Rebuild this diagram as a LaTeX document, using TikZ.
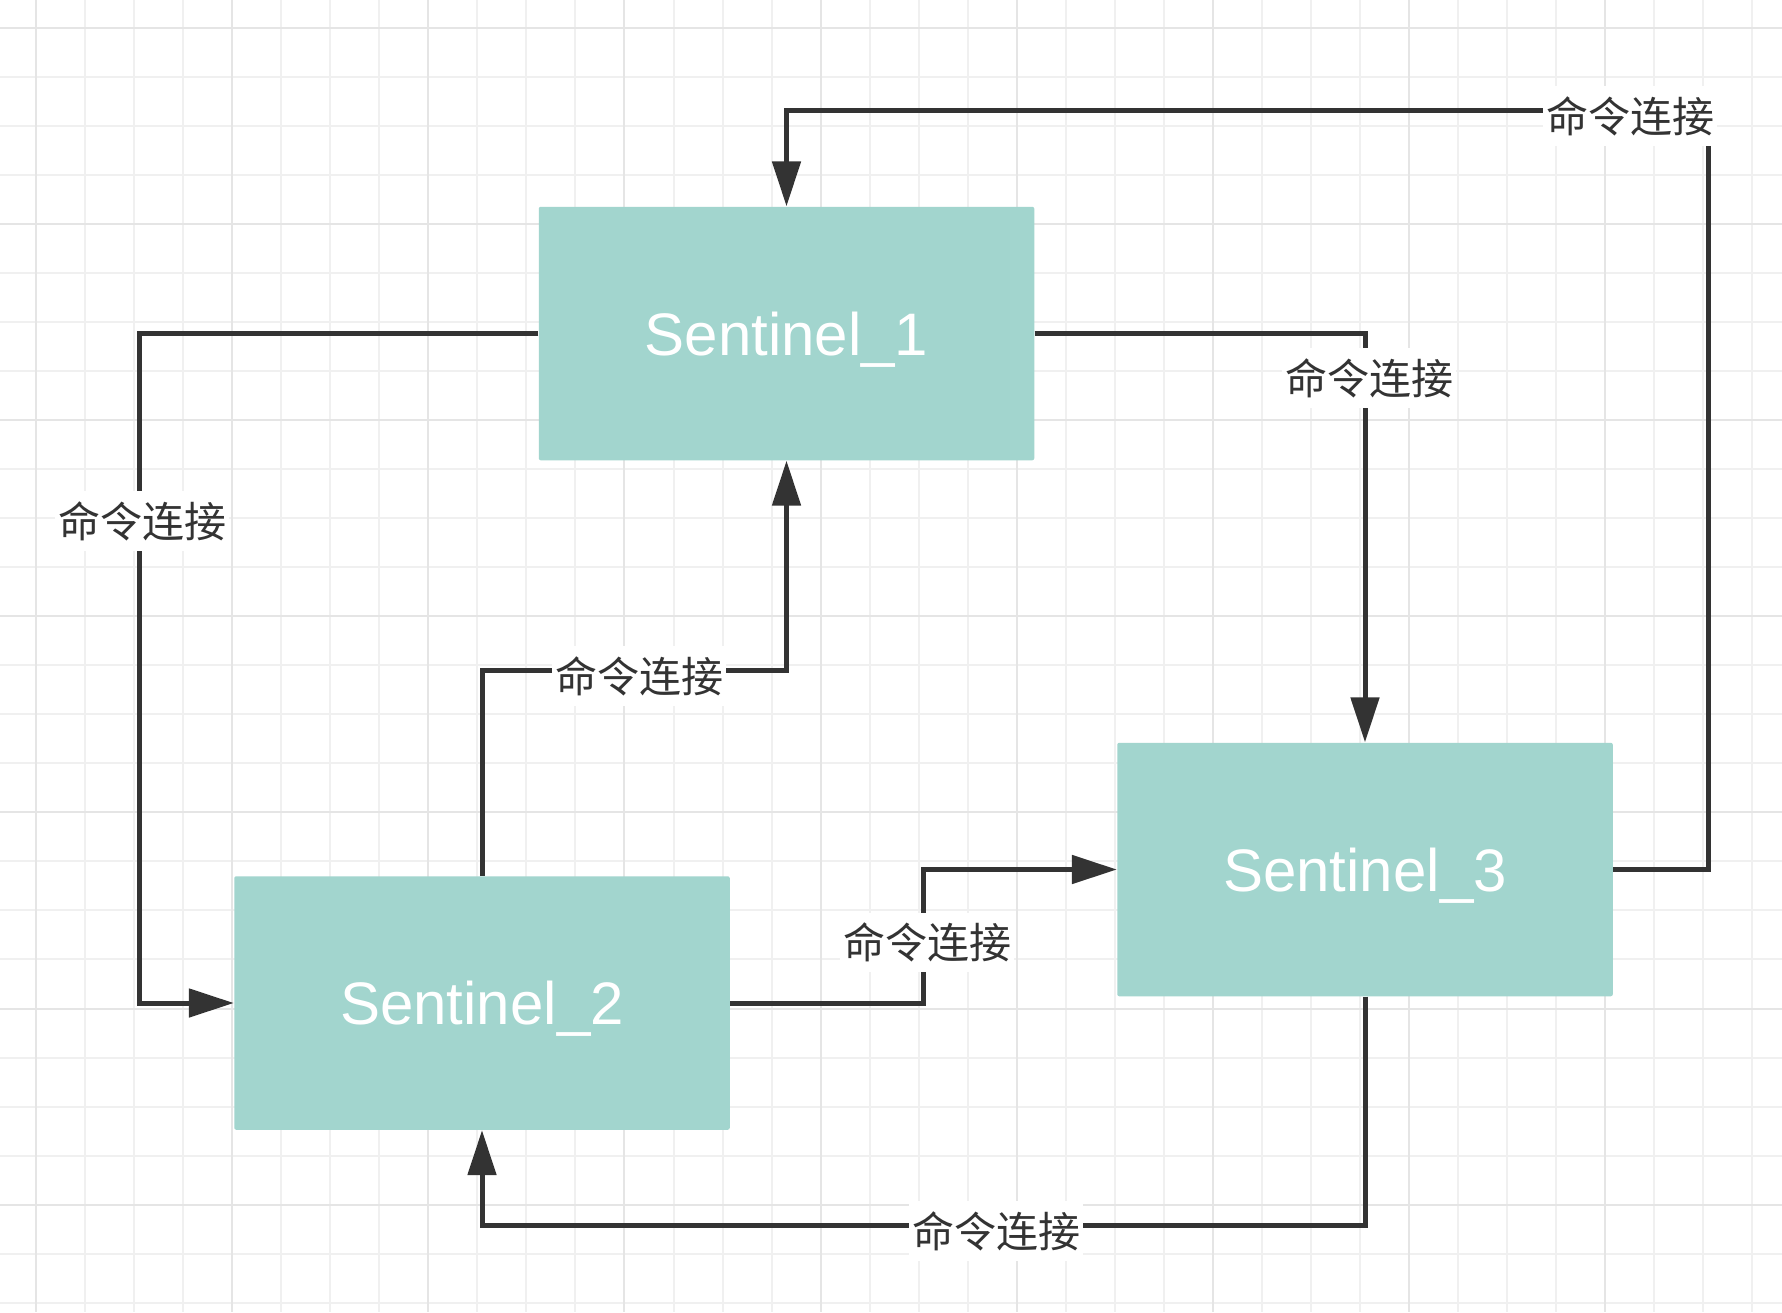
\documentclass[tikz,border=0pt]{standalone}
\usepackage{fontspec}
\setmainfont{Liberation Sans}
\newfontfamily\cjk{Noto Sans CJK SC}
\usetikzlibrary{arrows.meta}
\definecolor{boxfill}{RGB}{162,213,206}
\definecolor{linecol}{RGB}{51,51,51}
\definecolor{gridminor}{RGB}{240,240,240}
\definecolor{gridmajor}{RGB}{229,229,229}
\begin{document}
\begin{tikzpicture}[x=0.5pt,y=-0.5pt,
  sentbox/.style={fill=boxfill, draw=none, rounded corners=1pt,
    minimum width=247.75pt, minimum height=126.75pt, inner sep=0pt,
    text depth=0pt, text=white, font=\fontsize{30}{34}\selectfont},
  conn/.style={draw=linecol, line width=2.5pt, -{Triangle[length=22.5pt,width=14pt]}},
  lbl/.style={fill=white, text=linecol, font=\cjk\fontsize{21}{21}\selectfont,
    inner xsep=1.5pt, inner ysep=5pt},
  gline/.style={line width=1pt},
]
\useasboundingbox (0,0) rectangle (1782,1312);
\fill[white] (0,0) rectangle (1782,1312);
% grid
\foreach \k in {0,...,35} \draw[gline, gridminor] ({36+49.04*\k},0) -- ({36+49.04*\k},1312);
\foreach \k in {0,...,26} \draw[gline, gridminor] (0,{27.7+49.04*\k}) -- (1782,{27.7+49.04*\k});
\foreach \k in {0,4,...,32} \draw[gline, gridmajor] ({36+49.04*\k},0) -- ({36+49.04*\k},1312);
\foreach \k in {0,4,...,24} \draw[gline, gridmajor] (0,{27.7+49.04*\k}) -- (1782,{27.7+49.04*\k});

% boxes
\node[sentbox] (s1) at (786.5,333.5) {Sentinel\_1};
\node[sentbox] (s2) at (482,1003) {Sentinel\_2};
\node[sentbox] (s3) at (1365,869.5) {Sentinel\_3};

% bend points
\coordinate (a1) at (139,333.5);
\coordinate (a2) at (1365,333.5);
\coordinate (a3) at (1708,110.5);
\coordinate (a4) at (482,670.5);
\coordinate (a5) at (923,936);
\coordinate (a6) at (1365,1225.5);

% connectors
\draw[conn] (s1.west) -- (a1) |- (s2.west);
\draw[conn] (s1.east) -- (a2) -- (s3.north);
\draw[conn] (s3.east) -| (a3) -| (s1.north);
\draw[conn] (s2.north) -- (a4) -| (s1.south);
\draw[conn] (s2.east) -| (a5) |- (s3.west);
\draw[conn] (s3.south) -- (a6) -| (s2.south);

% labels
\node[lbl] (l1) at (142,521) {命令连接};
\node[lbl] (l2) at (1369,378) {命令连接};
\node[lbl] (l3) at (1630,116) {命令连接};
\node[lbl] (l4) at (639,676) {命令连接};
\node[lbl] (l5) at (927,942.5) {命令连接};
\node[lbl] (l6) at (996,1231) {命令连接};
\end{tikzpicture}
\end{document}
